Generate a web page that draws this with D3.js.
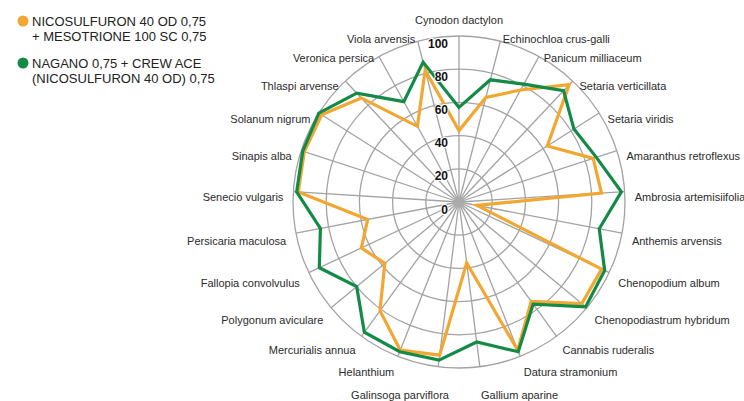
<!DOCTYPE html>
<html>
<head>
<meta charset="utf-8">
<script src="https://cdn.jsdelivr.net/npm/d3@7"></script>
<style>
  body { margin: 0; background: #fff; }
  svg { display: block; font-family: "Liberation Sans", Arial, sans-serif; }
</style>
</head>
<body>
<svg width="744" height="401"></svg>
<script>
var categories = [
    'Cynodon dactylon', 'Echinochloa crus-galli', 'Panicum milliaceum', 'Setaria verticillata',
    'Setaria viridis', 'Amaranthus retroflexus', 'Ambrosia artemisiifolia', 'Anthemis arvensis',
    'Chenopodium album', 'Chenopodiastrum hybridum', 'Cannabis ruderalis', 'Datura stramonium',
    'Gallium aparine', 'Galinsoga parviflora', 'Helanthium', 'Mercurialis annua',
    'Polygonum aviculare', 'Fallopia convolvulus', 'Persicaria maculosa', 'Senecio vulgaris',
    'Sinapis alba', 'Solanum nigrum', 'Thlaspi arvense', 'Veronica persica', 'Viola arvensis'
]

// NICOSULFURON 40 OD 0,75 + MESOTRIONE 100 SC 0,75
var nicoMeso = [43, 65, 77, 97, 63, 85, 86, 11, 95, 96, 74, 96, 37, 93, 96, 81, 58, 65, 56, 97, 98, 98, 86, 52, 82]

// NAGANO 0,75 + CREW ACE (NICOSULFURON 40 OD) 0,75
var naganoCrew = [57, 76, 81, 92, 82, 87, 98, 86, 97, 99, 76, 97, 85, 96, 97, 97, 80, 93, 85, 98, 99, 100, 90, 69, 87]

var ringTicks = [0, 20, 40, 60, 80, 100]

var seriesNames = [
    ['NICOSULFURON 40 OD 0,75', '+ MESOTRIONE 100 SC 0,75'],
    ['NAGANO 0,75 + CREW ACE', '(NICOSULFURON 40 OD) 0,75']
]
var seriesColors = ['#f1a731', '#138a45']

var cx = 459, cy = 202

var rScale = d3.scaleLinear().domain([0, 100]).range([0, 166])
var angle = d3.scaleLinear().domain([0, categories.length]).range([0, 2 * Math.PI])

var svg = d3.select('svg')
var chart = svg.append('g').attr('transform', `translate(${cx}, ${cy})`)

// grid rings
chart.selectAll('circle.ring')
    .data(ringTicks.filter(function(d){ return d > 0 }))
    .enter()
    .append('circle')
    .attr('class', 'ring')
    .attr('r', function(d){ return rScale(d) })
    .attr('fill', 'none')
    .attr('stroke', '#a3a3a3')
    .attr('stroke-width', 1.3)

// spokes
chart.selectAll('line.spoke')
    .data(categories)
    .enter()
    .append('line')
    .attr('class', 'spoke')
    .attr('x1', 0)
    .attr('y1', 0)
    .attr('x2', function(d, i){ return rScale(100) * Math.sin(angle(i)) })
    .attr('y2', function(d, i){ return -rScale(100) * Math.cos(angle(i)) })
    .attr('stroke', '#a3a3a3')
    .attr('stroke-width', 1.3)

chart.append('circle')
    .attr('r', 5)
    .attr('fill', '#aaa')

// data polygons
var radar = d3.lineRadial()
    .angle(function(d, i){ return angle(i) })
    .radius(function(d){ return rScale(d) })
    .curve(d3.curveLinearClosed)

chart.selectAll('path.series')
    .data([nicoMeso, naganoCrew])
    .enter()
    .append('path')
    .attr('class', 'series')
    .attr('d', radar)
    .attr('fill', 'none')
    .attr('stroke', function(d, i){ return seriesColors[i] })
    .attr('stroke-width', 3.2)
    .attr('stroke-linejoin', 'miter')

// radial tick labels
chart.selectAll('text.tick')
    .data(ringTicks)
    .enter()
    .append('text')
    .attr('class', 'tick')
    .attr('x', -11)
    .attr('y', function(d){ return -rScale(d) + 11.5 })
    .attr('text-anchor', 'end')
    .style('font-size', '12px')
    .style('font-weight', 'bold')
    .style('fill', '#111')
    .style('paint-order', 'stroke')
    .style('stroke', '#fff')
    .style('stroke-width', 2)
    .text(function(d){ return d })

// category labels
var labelR = 176
chart.selectAll('text.cat')
    .data(categories)
    .enter()
    .append('text')
    .attr('class', 'cat')
    .attr('x', function(d, i){
        var x = labelR * Math.sin(angle(i))
        if (i == 13) x += 12
        return x
    })
    .attr('y', function(d, i){
        var a = angle(i)
        var y = -labelR * Math.cos(a)
        if (i == 0) return y - 2
        if (i == 12 || i == 13) return y + 22
        if (Math.cos(a) > 0) return y + 10 + 6 * Math.pow(Math.sin(2 * a), 2)
        return y + 10
    })
    .attr('text-anchor', function(d, i){
        if (i == 0) return 'middle'
        return angle(i) < Math.PI ? 'start' : 'end'
    })
    .style('font-size', '11px')
    .style('fill', '#2b2b2b')
    .text(function(d){ return d })

// legend
var legend = svg.selectAll('g.legend')
    .data(seriesNames)
    .enter()
    .append('g')
    .attr('class', 'legend')
    .attr('transform', function(d, i){ return `translate(23, ${21 + i * 42})` })

legend.append('circle')
    .attr('r', 5.5)
    .attr('fill', function(d, i){ return seriesColors[i] })

legend.selectAll('text')
    .data(function(d){ return d })
    .enter()
    .append('text')
    .attr('x', 9)
    .attr('y', function(d, i){ return 4.5 + i * 15 })
    .style('font-size', '13px')
    .style('fill', '#222')
    .text(function(d){ return d })
</script>
</body>
</html>
